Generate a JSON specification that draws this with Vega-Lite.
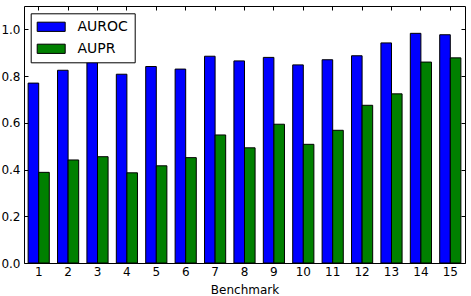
{
  "$schema": "https://vega.github.io/schema/vega-lite/v6.json",
  "width": 441,
  "height": 257,
  "autosize": {"type": "none"},
  "padding": {"left": 24, "top": 6, "right": 6, "bottom": 33},
  "data": {"values": [
    {"benchmark": 1, "metric": "AUROC", "value": 0.770},
    {"benchmark": 2, "metric": "AUROC", "value": 0.825},
    {"benchmark": 3, "metric": "AUROC", "value": 0.861},
    {"benchmark": 4, "metric": "AUROC", "value": 0.808},
    {"benchmark": 5, "metric": "AUROC", "value": 0.841},
    {"benchmark": 6, "metric": "AUROC", "value": 0.830},
    {"benchmark": 7, "metric": "AUROC", "value": 0.885},
    {"benchmark": 8, "metric": "AUROC", "value": 0.865},
    {"benchmark": 9, "metric": "AUROC", "value": 0.880},
    {"benchmark": 10, "metric": "AUROC", "value": 0.848},
    {"benchmark": 11, "metric": "AUROC", "value": 0.870},
    {"benchmark": 12, "metric": "AUROC", "value": 0.887},
    {"benchmark": 13, "metric": "AUROC", "value": 0.942},
    {"benchmark": 14, "metric": "AUROC", "value": 0.983},
    {"benchmark": 15, "metric": "AUROC", "value": 0.977},
    {"benchmark": 1, "metric": "AUPR", "value": 0.388},
    {"benchmark": 2, "metric": "AUPR", "value": 0.441},
    {"benchmark": 3, "metric": "AUPR", "value": 0.455},
    {"benchmark": 4, "metric": "AUPR", "value": 0.386},
    {"benchmark": 5, "metric": "AUPR", "value": 0.416},
    {"benchmark": 6, "metric": "AUPR", "value": 0.451},
    {"benchmark": 7, "metric": "AUPR", "value": 0.548},
    {"benchmark": 8, "metric": "AUPR", "value": 0.493},
    {"benchmark": 9, "metric": "AUPR", "value": 0.594},
    {"benchmark": 10, "metric": "AUPR", "value": 0.508},
    {"benchmark": 11, "metric": "AUPR", "value": 0.568},
    {"benchmark": 12, "metric": "AUPR", "value": 0.675},
    {"benchmark": 13, "metric": "AUPR", "value": 0.724},
    {"benchmark": 14, "metric": "AUPR", "value": 0.860},
    {"benchmark": 15, "metric": "AUPR", "value": 0.878}
  ]},
  "config": {
    "font": "DejaVu Sans",
    "view": {"stroke": "black", "strokeWidth": 1},
    "axis": {
      "grid": false,
      "domain": false,
      "tickColor": "black",
      "tickSize": -4,
      "labelColor": "black",
      "labelFontSize": 12,
      "labelFont": "DejaVu Sans",
      "titleFont": "DejaVu Sans",
      "titleFontSize": 12,
      "titleFontWeight": "normal",
      "titleColor": "black"
    }
  },
  "layer": [
    {
      "mark": {"type": "bar", "stroke": "black", "strokeWidth": 1},
      "encoding": {
        "x": {
          "field": "benchmark", "type": "ordinal",
          "scale": {"paddingInner": 0.28, "paddingOuter": 0.14},
          "axis": {"title": "Benchmark", "labelAngle": 0, "labelPadding": 7, "titlePadding": 7}
        },
        "xOffset": {"field": "metric", "type": "nominal", "scale": {"domain": ["AUROC", "AUPR"]}},
        "y": {
          "field": "value", "type": "quantitative",
          "scale": {"domain": [0, 1.1], "nice": false},
          "axis": {"values": [0, 0.2, 0.4, 0.6, 0.8, 1.0], "format": ".1f", "title": null, "labelPadding": 8}
        },
        "color": {
          "field": "metric", "type": "nominal",
          "scale": {"domain": ["AUROC", "AUPR"], "range": ["#0000ff", "#008000"]},
          "legend": {
            "title": null,
            "orient": "none",
            "legendX": 6.7,
            "legendY": 7.3,
            "fillColor": "white",
            "strokeColor": "black",
            "padding": 6,
            "cornerRadius": 0,
            "symbolType": "M-1,-0.66H3V0.66H-1Z",
            "symbolSize": 196,
            "symbolStrokeColor": "black",
            "symbolStrokeWidth": 1,
            "symbolOpacity": 1,
            "labelFontSize": 14,
            "labelFont": "DejaVu Sans",
            "labelColor": "black",
            "labelOffset": 25.7,
            "rowPadding": 7
          }
        }
      }
    },
    {
      "mark": {"type": "bar", "opacity": 0},
      "encoding": {
        "x": {
          "field": "benchmark", "type": "ordinal",
          "axis": {"orient": "top", "labels": false, "title": null}
        },
        "xOffset": {"field": "metric", "type": "nominal"},
        "y": {
          "field": "value", "type": "quantitative",
          "axis": {"orient": "right", "labels": false, "title": null, "values": [0, 0.2, 0.4, 0.6, 0.8, 1.0]}
        }
      }
    }
  ],
  "resolve": {"axis": {"x": "independent", "y": "independent"}}
}
